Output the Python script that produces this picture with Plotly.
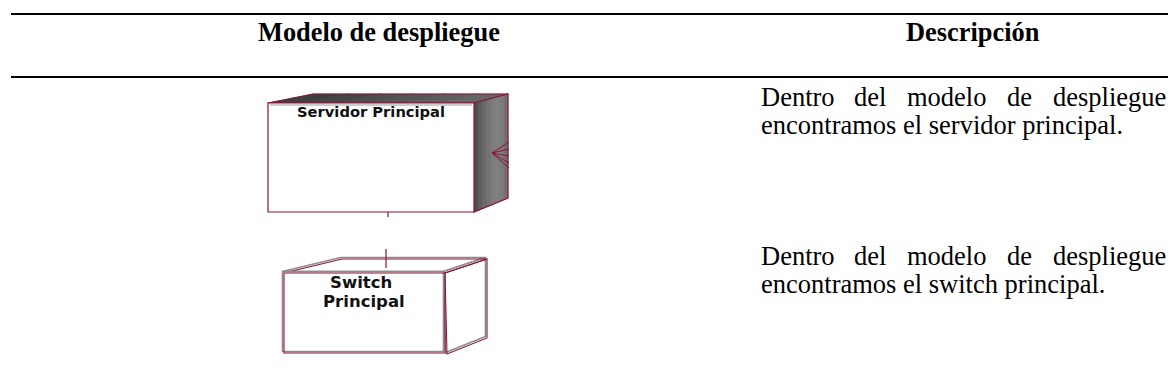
import plotly.graph_objects as go

# ---- content ----
headers = ["Modelo de despliegue", "Descripción"]
node_labels = ["Servidor Principal", "Switch", "Principal"]
desc_line1 = ["Dentro", "del", "modelo", "de", "despliegue"]
desc_line2 = ["encontramos el servidor principal.", "encontramos el switch principal."]

W, H = 1168, 392
MAROON = "#8a1538"
GRAY = "#8c8c8c"

fig = go.Figure()
fig.update_layout(
    width=W, height=H, margin=dict(l=0, r=0, t=0, b=0),
    paper_bgcolor="white", plot_bgcolor="white", showlegend=False,
    xaxis=dict(range=[0, W], visible=False, fixedrange=True),
    yaxis=dict(range=[H, 0], visible=False, fixedrange=True),
)

shapes = []
ann = []

def line(x0, y0, x1, y1, color, width):
    shapes.append(dict(type="line", xref="x", yref="y", x0=x0, y0=y0, x1=x1, y1=y1,
                       line=dict(color=color, width=width)))

def poly(pts, fill, color=None, width=0):
    p = "M " + " L ".join(f"{x},{y}" for x, y in pts) + " Z"
    shapes.append(dict(type="path", xref="x", yref="y", path=p, fillcolor=fill,
                       line=dict(color=color if color else fill, width=width)))

def text(x, y, s, size, family, xanchor="center", color="black"):
    ann.append(dict(x=x, y=y, text=s, showarrow=False, xanchor=xanchor, yanchor="middle",
                    align="center", font=dict(family=family, size=size, color=color),
                    xref="x", yref="y", borderpad=0))

# table rules
line(11, 14, W, 14, "black", 2.2)
line(11, 77, W, 77, "black", 2.2)

# headers
text(379, 32, "<b>" + headers[0] + "</b>", 26.4, "Liberation Serif")
text(973, 32, "<b>" + headers[1] + "</b>", 26.4, "Liberation Serif")

# descriptions (justified first line)
word_x = [760, 853, 906, 1006, 1052]
for yc, l2 in zip([97, 256], desc_line2):
    for wx, w in zip(word_x, desc_line1):
        text(wx, yc, w, 26.5, "Liberation Serif", xanchor="left")
    text(760, yc + 28, l2, 26.5, "Liberation Serif", xanchor="left")

# ---- Servidor Principal node ----
top_cols = ["#3e3e3e", "#464646", "#4e4e4e", "#565656", "#5e5e5e", "#666666"]
nt = len(top_cols)
for i, c in enumerate(top_cols):
    t0, t1 = i / nt, min((i + 1) / nt + 0.02, 1)
    poly([(268 + 206 * t0, 103), (313 + 195 * t0, 94), (313 + 195 * t1, 94),
          (268 + 206 * t1, 103)], c, c, 0.5)
poly([(268, 103), (313, 94), (508, 94), (474, 103)], "rgba(0,0,0,0)", MAROON, 1)
cols = ["#505050", "#5e5e5e", "#6a6a6a", "#747474", "#7c7c7c", "#808080", "#7c7c7c", "#707070"]
n = len(cols)
for i in range(n):
    t0, t1 = i / n, min((i + 1) / n + 0.03, 1)
    xa, xb = 474 + 34 * t0, 474 + 34 * t1
    ya_t, yb_t = 103 - 9 * t0, 103 - 9 * t1
    ya_b, yb_b = 212 - 14 * t0, 212 - 14 * t1
    poly([(xa, ya_t), (xb, yb_t), (xb, yb_b), (xa, ya_b)], cols[i], cols[i], 0.5)
poly([(474, 103), (508, 94), (508, 198), (474, 212)], "rgba(0,0,0,0)", MAROON, 1.2)
poly([(268, 103), (474, 103), (474, 212), (268, 212)], "white", MAROON, 1.2)
line(270, 105, 472, 105, "#9a9a9a", 1)
for yy in [142, 149, 156, 163, 168]:
    line(492, 153, 509, yy, MAROON, 1)
line(388, 212, 388, 217, MAROON, 1.2)
text(371, 111, "<b>" + node_labels[0] + "</b>", 14.7, "DejaVu Sans", color="#111")

# ---- Switch Principal node ----
poly([(282.5, 271.5), (340.5, 257.5), (485.5, 257.5), (443.5, 271.5)], "white", GRAY, 1.6)
poly([(443.5, 271.5), (485.5, 257.5), (485.5, 336.5), (445.5, 352.5)], "white", GRAY, 1.6)
poly([(284, 273), (342, 259), (487, 259), (445, 273)], "rgba(0,0,0,0)", MAROON, 1.1)
poly([(445, 273), (487, 259), (487, 338), (447, 354)], "rgba(0,0,0,0)", MAROON, 1.1)
poly([(282.5, 271.5), (443.5, 271.5), (443.5, 351.5), (282.5, 351.5)], "white", GRAY, 1.6)
poly([(284, 273), (445, 273), (445, 353), (284, 353)], "rgba(0,0,0,0)", MAROON, 1.1)
line(386, 249, 386, 268, MAROON, 1.2)
text(361, 282, "<b>" + node_labels[1] + "</b>", 16.5, "DejaVu Sans", color="#111")
text(364, 301, "<b>" + node_labels[2] + "</b>", 16.5, "DejaVu Sans", color="#111")

fig.update_layout(shapes=shapes, annotations=ann)
fig.write_html("out.html", config={"displayModeBar": False},
               post_script="document.body.style.margin='0';document.body.style.overflow='hidden';")
